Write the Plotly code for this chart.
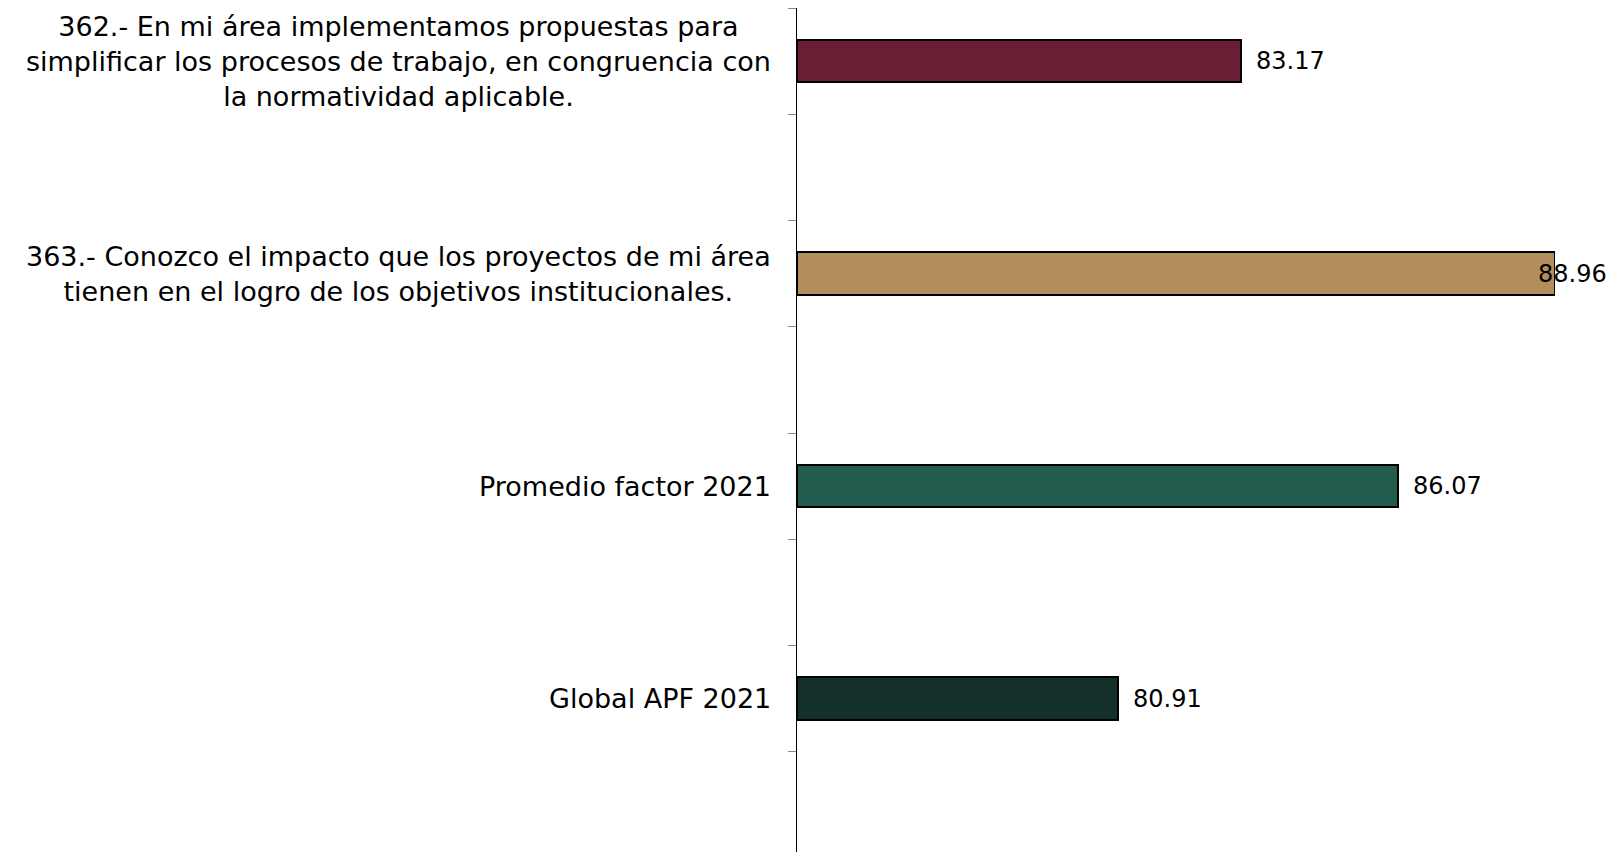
import plotly.graph_objects as go

# data
categories = [
    "362.- En mi área implementamos propuestas para<br>simplificar los procesos de trabajo, en congruencia con<br>la normatividad aplicable.",
    "363.- Conozco el impacto que los proyectos de mi área<br>tienen en el logro de los objetivos institucionales.",
    "Promedio factor 2021",
    "Global APF 2021",
]
values = [83.17, 88.96, 86.07, 80.91]
value_labels = ["83.17", "88.96", "86.07", "80.91"]
bar_colors = ["#6A1E33", "#B38E5D", "#235B4E", "#13302B"]

x_min, x_max = 75, 88.96
font_family = "DejaVu Sans, Open Sans, sans-serif"
label_size = 27
value_size = 24

positions = list(range(len(categories)))

fig = go.Figure()
fig.add_trace(go.Bar(
    x=[v - x_min for v in values],  # bars start at the axis (x_min)
    y=positions,
    base=x_min,
    orientation="h",
    width=0.2,
    marker=dict(color=bar_colors, line=dict(color="#000000", width=2)),
    hoverinfo="skip",
))

annotations = []
for i, (v, lab) in enumerate(zip(values, value_labels)):
    if v >= x_max:
        # no room to the right: pin the label to the figure edge
        annotations.append(dict(x=1, xref="paper", y=i, yref="y", text=lab,
                                xanchor="right", xshift=54, showarrow=False,
                                font=dict(size=value_size, color="#000")))
    else:
        annotations.append(dict(x=v, xref="x", y=i, yref="y", text=lab,
                                xanchor="left", xshift=13, showarrow=False,
                                font=dict(size=value_size, color="#000")))

for i, cat in enumerate(categories):
    annotations.append(dict(x=0, xref="paper", y=i, yref="y", text=cat,
                            xanchor="right", xshift=-24, align="center",
                            showarrow=False, font=dict(size=label_size, color="#000")))

fig.update_layout(
    width=1602, height=850,
    margin=dict(l=789, r=55, t=0, b=0),
    plot_bgcolor="white", paper_bgcolor="white",
    font=dict(family=font_family, color="#000"),
    showlegend=False,
    annotations=annotations,
    bargap=0,
)
fig.update_xaxes(range=[x_min, x_max], visible=False)
fig.update_yaxes(
    range=[3.75, -0.25],
    showline=True, linecolor="#000", linewidth=1,
    showgrid=False, zeroline=False,
    showticklabels=False, ticks="",
    minor=dict(tickmode="array", tickvals=[p + d for p in positions for d in (-0.25, 0.25)],
               ticks="outside", ticklen=8, tickcolor="#888", tickwidth=1, showgrid=False),
)

fig.write_html("out.html")
